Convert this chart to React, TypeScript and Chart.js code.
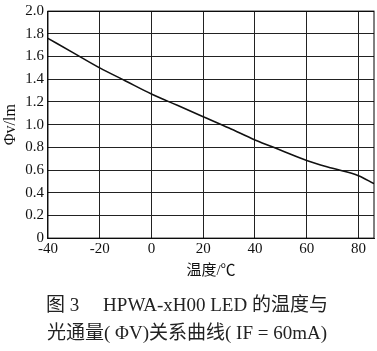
import React, { useEffect, useRef } from "react";
import { Chart, registerables } from "chart.js";

Chart.register(...registerables);

const temperatures = [-40, -30, -20, -10, 0, 10, 20, 30, 40, 50, 60, 70, 80, 86];
const flux = [1.76, 1.63, 1.5, 1.385, 1.27, 1.17, 1.07, 0.97, 0.865, 0.775, 0.685, 0.615, 0.55, 0.48];
const yTitle = "Φv/lm";
const xTitle = "温度/℃";
const captionLines = ["图 3　 HPWA-xH00 LED 的温度与", "光通量( ΦV)关系曲线( IF = 60mA)"];

const serif = "'Liberation Serif', 'Noto Sans CJK SC', serif";

const borderPlugin = {
  id: "areaBorder",
  afterDraw(chart: any) {
    const { ctx, chartArea } = chart;
    ctx.save();
    ctx.strokeStyle = "#000";
    ctx.lineWidth = 1;
    ctx.strokeRect(chartArea.left, chartArea.top, chartArea.right - chartArea.left, chartArea.bottom - chartArea.top);
    ctx.restore();
  },
};

export default function App() {
  const ref = useRef<HTMLCanvasElement>(null);
  useEffect(() => {
    if (!ref.current) return;
    const chart = new Chart(ref.current, {
      type: "line",
      data: {
        datasets: [
          {
            data: temperatures.map((t, i) => ({ x: t, y: flux[i] })),
            borderColor: "#111",
            borderWidth: 1.6,
            pointRadius: 0,
            cubicInterpolationMode: "monotone",
            fill: false,
          },
        ],
      },
      plugins: [borderPlugin],
      options: {
        animation: false,
        responsive: false,
        maintainAspectRatio: false,
        layout: { padding: { left: 0, right: 3, top: 0, bottom: 0 } },
        plugins: {
          legend: { display: false },
          tooltip: { enabled: false },
          title: {
            display: true,
            position: "bottom",
            text: captionLines,
            color: "#222",
            font: { family: serif, size: 19, weight: "normal", lineHeight: 1.47 },
            padding: { top: 12, bottom: 3 },
          },
        },
        scales: {
          x: {
            type: "linear",
            min: -40,
            max: 86,
            ticks: {
              stepSize: 20,
              includeBounds: false,
              color: "#111",
              font: { family: serif, size: 15 },
              padding: 2,
              maxRotation: 0,
            },
            grid: { color: "#222", lineWidth: 1, drawTicks: false },
            border: { color: "#222" },
            title: {
              display: true,
              text: xTitle,
              color: "#111",
              font: { family: serif, size: 15 },
              padding: { top: 2, bottom: 0 },
            },
          },
          y: {
            min: 0,
            max: 2.0,
            ticks: {
              stepSize: 0.2,
              color: "#111",
              font: { family: serif, size: 15, lineHeight: 0.95 },
              padding: 4,
              callback: (v: any) => (Number(v) === 0 ? "0" : Number(v).toFixed(1)),
            },
            grid: { color: "#222", lineWidth: 1, drawTicks: false },
            border: { color: "#222" },
            title: {
              display: true,
              text: yTitle,
              color: "#111",
              font: { family: serif, size: 16 },
              padding: { top: 1, bottom: 1 },
            },
          },
        },
      },
    });
    return () => chart.destroy();
  }, []);
  return (
    <div style={{ position: "absolute", left: 0, top: 0, width: 377, height: 351, background: "#fff" }}>
      <canvas ref={ref} width={377} height={351} style={{ width: 377, height: 351 }} />
    </div>
  );
}
